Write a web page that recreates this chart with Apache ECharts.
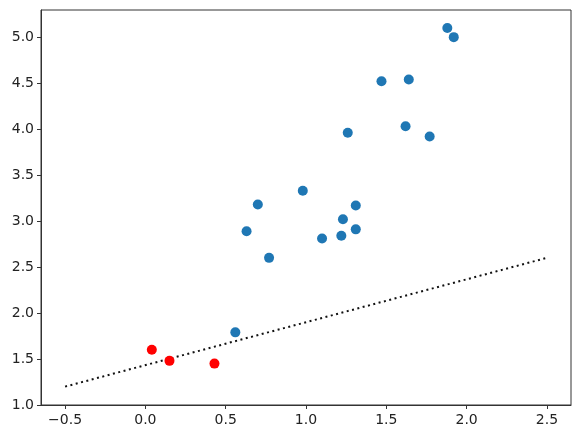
<!DOCTYPE html>
<html>
<head>
<meta charset="utf-8">
<script src="https://cdn.jsdelivr.net/npm/echarts@6/dist/echarts.min.js"></script>
<style>
  html, body { margin: 0; padding: 0; background: #fff; }
  #chart { width: 580px; height: 444px; }
</style>
</head>
<body>
<div id="chart"></div>
<script>
// blue group
var blueX = [0.70, 1.88, 1.92, 1.47, 1.64, 1.26, 1.62, 1.77, 0.98, 1.31, 1.23, 0.63, 0.77, 0.56, 1.10, 1.22, 1.31];
var blueY = [3.18, 5.10, 5.00, 4.52, 4.54, 3.96, 4.03, 3.92, 3.33, 3.17, 3.02, 2.89, 2.60, 1.79, 2.81, 2.84, 2.91];
// red group
var redX = [0.04, 0.15, 0.43];
var redY = [1.60, 1.48, 1.45];
// dotted line ends
var lineX = [-0.5, 2.5];
var lineY = [1.2, 2.6];
// tick labels
var xTicks = [-0.5, 0.0, 0.5, 1.0, 1.5, 2.0, 2.5];
var yTicks = [1.0, 1.5, 2.0, 2.5, 3.0, 3.5, 4.0, 4.5, 5.0];

function pairs(xs, ys) {
    var out = [];
    for (var i = 0; i < xs.length; i++) {
        out.push([xs[i], ys[i]]);
    }
    return out;
}

var labelStyle = {
    color: '#222',
    fontFamily: 'DejaVu Sans',
    fontSize: 14,
    formatter: function (v) { return v.toFixed(1).replace('-', '\u2212'); }
};

var myChart = echarts.init(document.getElementById('chart'));
var option = {
    animation: false,
    backgroundColor: '#fff',
    grid: {
        left: 41,
        top: 10,
        right: 9,
        bottom: 39,
        show: true,
        borderColor: '#333',
        borderWidth: 1
    },
    xAxis: {
        type: 'value',
        min: -0.65,
        max: 2.65,
        splitLine: { show: false },
        axisLine: { show: true, onZero: false, lineStyle: { color: '#333' } },
        axisTick: { show: true, length: 4, customValues: xTicks, lineStyle: { color: '#333' } },
        axisLabel: Object.assign({ margin: 8, customValues: xTicks }, labelStyle)
    },
    yAxis: {
        type: 'value',
        min: 1.0,
        max: 5.295,
        splitLine: { show: false },
        axisLine: { show: true, onZero: false, lineStyle: { color: '#333' } },
        axisTick: { show: true, length: 4, customValues: yTicks, lineStyle: { color: '#333' } },
        axisLabel: Object.assign({ margin: 7, customValues: yTicks }, labelStyle)
    },
    series: [
        {
            type: 'line',
            data: pairs(lineX, lineY),
            symbol: 'none',
            lineStyle: { color: '#111', width: 2, type: [2, 3.5] },
            z: 1
        },
        {
            type: 'scatter',
            data: pairs(blueX, blueY),
            symbolSize: 10,
            itemStyle: { color: '#1f77b4', opacity: 1 },
            z: 2
        },
        {
            type: 'scatter',
            data: pairs(redX, redY),
            symbolSize: 10,
            itemStyle: { color: '#ff0000', opacity: 1 },
            z: 2
        }
    ]
};
myChart.setOption(option);
</script>
</body>
</html>
